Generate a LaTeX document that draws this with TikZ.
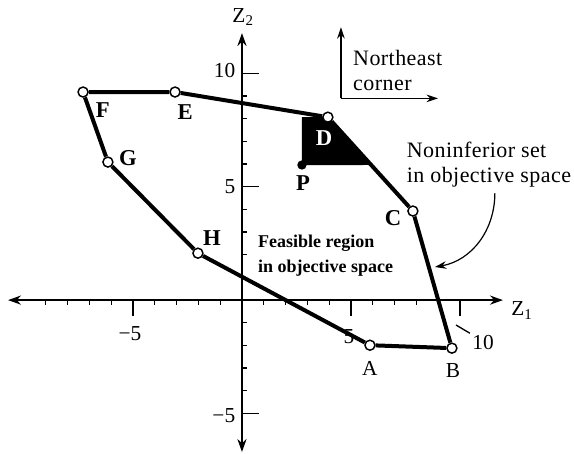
\documentclass[tikz,border=0pt]{standalone}
\usepackage{fontspec}
\setmainfont{Liberation Serif}
\newfontfamily\spacedfont[LetterSpace=2]{Liberation Serif}
\usetikzlibrary{arrows.meta,calc,backgrounds}
\tikzset{
  vtx/.style={circle,draw=black,fill=white,line width=1.1pt,inner sep=0pt,minimum size=7.5pt},
  vdot/.style={circle,fill=black,inner sep=0pt,minimum size=7pt},
  vlab/.style={font=\fontsize{17}{19}\selectfont\bfseries},
  vtxt/.style={font=\fontsize{16}{18.75}\selectfont,align=left,inner sep=0pt},
  vnote/.style={font=\spacedfont\fontsize{16.5}{18.75}\selectfont,align=left,inner sep=0pt},
  vbold/.style={font=\fontsize{13.5}{18.75}\selectfont\bfseries,align=left,inner sep=0pt},
  vedge/.style={line width=3pt,draw=black},
  vaxis/.style={line width=1.4pt,-{Stealth[length=3.4mm,width=2.4mm]}},
  vtick/.style={line width=1pt},
  varr/.style={line width=0.9pt,-{Stealth[length=3mm,width=2mm]}}
}

\begin{document}
\begin{tikzpicture}[x=16.35pt,y=17pt]
  \useasboundingbox (-11.1,-6.75) rectangle (15.23,13.24);
  % axes
  \coordinate (o) at (0,0);
  \coordinate (xl) at (-10.73,0);
  \coordinate (xr) at (11.97,0);
  \coordinate (yb) at (0,-6.7);
  \coordinate (yt) at (0,11.78);
  \draw[vaxis] (o) -- (xr);
  \draw[vaxis] (o) -- (xl);
  \draw[vaxis] (o) -- (yt);
  \draw[vaxis] (o) -- (yb);
  \foreach \i in {-9,...,-1,1,2,...,9}
    \draw[vtick] (\i,0) -- (\i,-0.2);
  \foreach \i in {-5,5,10}
    \draw[vtick] (\i,0) -- (\i,-0.7);
  \foreach \j in {-4,...,-1,1,2,...,9}
    \draw[vtick] (0,\j) -- (0.25,\j);
  \foreach \j in {-5,5,10}
    \draw[vtick] (0,\j) -- (0.8,\j);
  \node[vtxt] (z1) at (12.84,-0.45) {Z\textsubscript{1}};
  \node[vtxt] (z2) at (0.05,12.5) {Z\textsubscript{2}};
  \node[vtxt,anchor=east] (y10) at (-0.3,10.12) {10};
  \node[vtxt,anchor=east] (y5) at (-0.3,5.0) {5};
  \node[vtxt,anchor=east] (ym5) at (-0.3,-5.1) {−5};
  \node[vtxt] (xm5) at (-5.14,-1.46) {−5};
  \node[vtxt] (x5) at (4.91,-1.59) {5};
  \node[vtxt] (x10) at (11.06,-1.85) {10};
  \coordinate (l1) at (9.82,-1.1);
  \draw[vtick,shorten >=2pt] (l1) -- (x10.north west);

  % feasible region
  \node[vtx] (F) at (-7.29,9.18) {};
  \node[vtx] (E) at (-3.07,9.18) {};
  \node[vtx] (D) at (3.94,8.07) {};
  \node[vtx] (C) at (7.84,3.93) {};
  \node[vtx] (B) at (9.63,-2.12) {};
  \node[vtx] (A) at (5.87,-1.99) {};
  \node[vtx] (H) at (-2.02,2.07) {};
  \node[vtx] (G) at (-6.15,6.09) {};
  \node[vdot] (P) at (2.75,5.96) {};
  \draw[vedge] (F) -- (E) -- (D) -- (C) -- (B) -- (A) -- (H) -- (G) -- (F);
  \coordinate (Pr) at (P -| C);
  \begin{scope}[on background layer]
    \fill (P.center |- D.center) -- (D.center) -- (intersection of D--C and P--Pr) -- (P.center) -- cycle;
  \end{scope}

  \node[vlab] (lF) at (-6.38,8.38) {F};
  \node[vlab] (lE) at (-2.61,8.29) {E};
  \node[vlab] (lG) at (-5.23,6.26) {G};
  \node[vlab] (lH) at (-1.38,2.73) {H};
  \node[vlab,text=white] (lD) at (3.76,7.15) {D};
  \node[vlab] (lP) at (2.80,5.16) {P};
  \node[vlab] (lC) at (6.93,3.62) {C};
  \node[vtxt] (lA) at (5.87,-3.0) {A};
  \node[vtxt] (lB) at (9.68,-3.09) {B};

  \node[vbold,anchor=west] (feas) at (0.73,1.98) {Feasible region\\in objective space};
  \node[vnote,anchor=west] (noninf) at (7.55,6.0) {Noninferior set\\in objective space};
  \node[vnote,anchor=west] (ne) at (5.09,10.15) {Northeast\\corner};

  % northeast corner
  \coordinate (nc) at (4.54,8.9);
  \coordinate (nu) at (4.54,12.04);
  \coordinate (nr) at (8.99,8.9);
  \draw[varr] (nc) -- (nu);
  \draw[varr] (nc) -- (nr);

  \coordinate (ca) at (11.6,4.72);
  \coordinate (cb) at (8.85,1.46);
  \draw[varr] (ca) to[out=-90,in=10] (cb);
\end{tikzpicture}
\end{document}
